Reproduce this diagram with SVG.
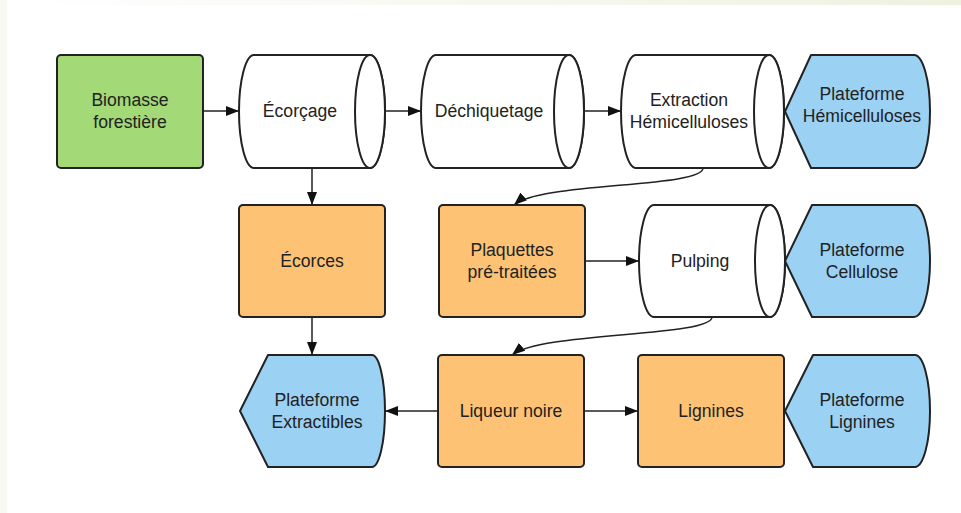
<svg xmlns="http://www.w3.org/2000/svg" width="961" height="513" viewBox="0 0 961 513">
<defs>
<linearGradient id="topg" x1="0" y1="0" x2="1" y2="0">
<stop offset="0" stop-color="#ffffff"/>
<stop offset="1" stop-color="#edf2df"/>
</linearGradient>
<marker id="arr" markerUnits="userSpaceOnUse" markerWidth="14" markerHeight="11" refX="13" refY="5.5" orient="auto">
<path d="M0,0.5 L13,5.5 L0,10.5 Z" fill="#111"/>
</marker>
</defs>
<style>
.sh{stroke:#222;stroke-width:2;stroke-linejoin:round}
.green{fill:#a3d977}
.orange{fill:#fec274}
.blue{fill:#9bd1f2}
.white{fill:#ffffff}
text{font-family:"Liberation Sans",Arial,sans-serif;font-size:17.6px;fill:#222;text-anchor:middle}
.con{fill:none;stroke:#222;stroke-width:1.5;marker-end:url(#arr)}
</style>
<rect x="0" y="0" width="961" height="513" fill="#ffffff"/>
<rect x="0" y="0" width="961" height="5" fill="url(#topg)"/>
<rect x="0" y="0" width="7" height="513" fill="#f8faf2"/>

<g id="connectors">
<path class="con" d="M203 111 L239 111"/>
<path class="con" d="M385 111 L421 111"/>
<path class="con" d="M584 111 L621 111"/>
<path class="con" d="M312 168 L312 205"/>
<path class="con" d="M703 168 C703 188 540 182 514 205"/>
<path class="con" d="M585 261 L639 261"/>
<path class="con" d="M712 317 C712 337 540 332 512 355"/>
<path class="con" d="M312 317 L312 355"/>
<path class="con" d="M438 411 L385 411"/>
<path class="con" d="M584 411 L638 411"/>
</g>

<g id="biomasse">
<rect class="sh green" x="57" y="55" width="146" height="113" rx="4"/>
<text x="130" y="106">Biomasse</text>
<text x="130" y="128">forestière</text>
</g>

<g id="ecorcage">
<path class="sh white" d="M254 55 L370 55 A15 56.5 0 0 1 370 168 L254 168 A15 56.5 0 0 1 254 55 Z"/>
<ellipse class="sh white" cx="370" cy="111.5" rx="15" ry="56.5"/>
<text x="300" y="117">Écorçage</text>
</g>

<g id="dechiquetage">
<path class="sh white" d="M436 55 L569 55 A15 56.5 0 0 1 569 168 L436 168 A15 56.5 0 0 1 436 55 Z"/>
<ellipse class="sh white" cx="569" cy="111.5" rx="15" ry="56.5"/>
<text x="489" y="117">Déchiquetage</text>
</g>

<g id="extraction">
<path class="sh white" d="M636 55 L769 55 A15 56.5 0 0 1 769 168 L636 168 A15 56.5 0 0 1 636 55 Z"/>
<ellipse class="sh white" cx="769" cy="111.5" rx="15" ry="56.5"/>
<text x="689" y="106">Extraction</text>
<text x="689" y="128">Hémicelluloses</text>
</g>

<g id="plateforme-hemicelluloses">
<path class="sh blue" d="M785 111.5 L811 55 L914 55 A16 56.5 0 0 1 914 168 L811 168 Z"/>
<text x="862" y="100">Plateforme</text>
<text x="862" y="122">Hémicelluloses</text>
</g>

<g id="ecorces">
<rect class="sh orange" x="239" y="205" width="146" height="112" rx="4"/>
<text x="312" y="267">Écorces</text>
</g>

<g id="plaquettes">
<rect class="sh orange" x="439" y="205" width="146" height="112" rx="4"/>
<text x="512" y="256">Plaquettes</text>
<text x="512" y="278">pré-traitées</text>
</g>

<g id="pulping">
<path class="sh white" d="M654 205 L770 205 A15 56 0 0 1 770 317 L654 317 A15 56 0 0 1 654 205 Z"/>
<ellipse class="sh white" cx="770" cy="261" rx="15" ry="56"/>
<text x="700" y="267">Pulping</text>
</g>

<g id="plateforme-cellulose">
<path class="sh blue" d="M785 261 L812 205 L914 205 A16 56 0 0 1 914 317 L812 317 Z"/>
<text x="862" y="256">Plateforme</text>
<text x="862" y="278">Cellulose</text>
</g>

<g id="plateforme-extractibles">
<path class="sh blue" d="M240 411 L268 355 L372 355 A13 56 0 0 1 372 467 L268 467 Z"/>
<text x="317" y="406">Plateforme</text>
<text x="317" y="428">Extractibles</text>
</g>

<g id="liqueur-noire">
<rect class="sh orange" x="438" y="355" width="146" height="112" rx="4"/>
<text x="511" y="417">Liqueur noire</text>
</g>

<g id="lignines">
<rect class="sh orange" x="638" y="355" width="146" height="112" rx="4"/>
<text x="711" y="417">Lignines</text>
</g>

<g id="plateforme-lignines">
<path class="sh blue" d="M785 411 L813 355 L915 355 A15 56 0 0 1 915 467 L813 467 Z"/>
<text x="862" y="406">Plateforme</text>
<text x="862" y="428">Lignines</text>
</g>
</svg>
